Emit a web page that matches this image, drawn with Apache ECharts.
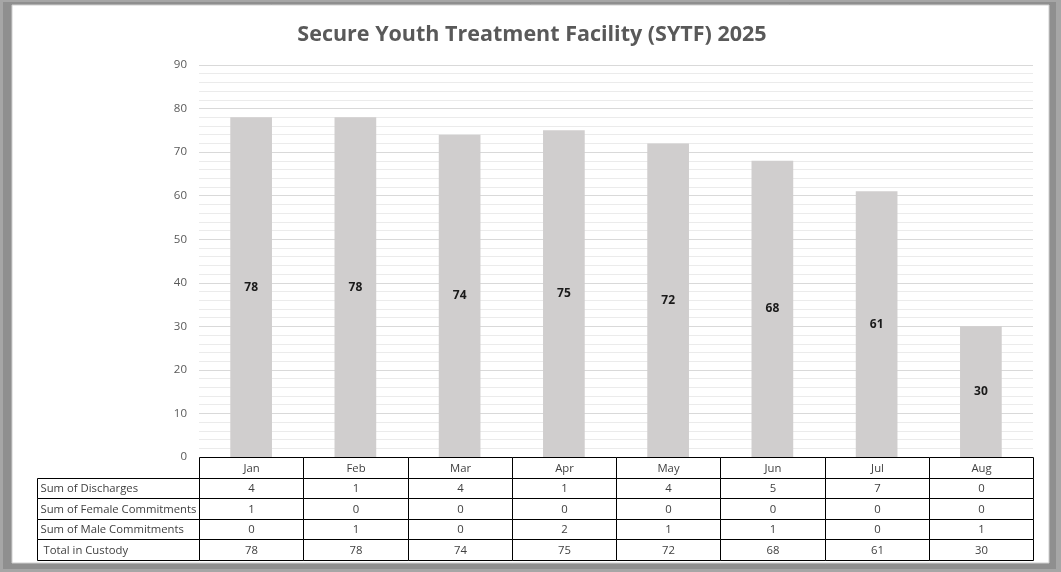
<!DOCTYPE html>
<html><head><meta charset="utf-8">
<script src="https://cdn.jsdelivr.net/npm/echarts@6/dist/echarts.min.js"></script>
<style>html,body{margin:0;padding:0;background:#fff}#c{width:1061px;height:572px}</style>
</head><body><div id="c"></div>
<script>
const months = ['Jan','Feb','Mar','Apr','May','Jun','Jul','Aug'];
const discharges = [4,1,4,1,4,5,7,0];
const femaleCommitments = [1,0,0,0,0,0,0,0];
const maleCommitments = [0,1,0,2,1,1,0,1];
const totalInCustody = [78,78,74,75,72,68,61,30];
const rowLabels = ['Sum of Discharges','Sum of Female Commitments','Sum of Male Commitments',' Total in Custody'];
const tableRows = [discharges, femaleCommitments, maleCommitments, totalInCustody];
const yTicks = [0,10,20,30,40,50,60,70,80,90];

const FONT = 'Open Sans';
const chart = echarts.init(document.getElementById('c'));

const monthCells = [];
for (let c = 0; c < months.length; c++) for (let r = 0; r < 5; r++) monthCells.push([c, r]);
const labelCells = rowLabels.map((_, i) => [0, i]);

function cellRender(textFn, align) {
  return function (params, api) {
    const c = api.value(0), r = api.value(1);
    const p = api.coord([c, r]);
    const s = api.size([1, 1]);
    const x0 = Math.round(p[0] - s[0] / 2), x1 = Math.round(p[0] + s[0] / 2);
    const y0 = Math.round(p[1] - s[1] / 2), y1 = Math.round(p[1] + s[1] / 2);
    const x = x0 + 0.5, y = y0 + 0.5, w = x1 - x0, h = y1 - y0;
    return {
      type: 'group',
      children: [
        { type: 'rect', shape: { x, y, width: w, height: h }, style: { fill: '#fff', stroke: '#000', lineWidth: 1 } },
        { type: 'text', style: { text: textFn(c, r), x: align === 'left' ? x + 3 : x + w / 2, y: y + h / 2 + 0.5,
            textAlign: align, textVerticalAlign: 'middle', fill: '#404040', font: '11.3px "' + FONT + '"' } }
      ]
    };
  };
}

chart.setOption({
  animation: false,
  backgroundColor: '#fff',
  graphic: [
    { type: 'rect', z: -10, shape: { x: 0, y: 0, width: 1061, height: 572 }, style: { fill: '#a6a6a6' } },
    { type: 'rect', z: -9, shape: { x: 3, y: 2, width: 1053, height: 567 }, style: { fill: '#8f8f8f' } },
    { type: 'rect', z: -8, shape: { x: 12, y: 5, width: 1037, height: 558 }, style: { fill: '#fff', stroke: '#cfcfcf', lineWidth: 1 } }
  ],
  title: {
    text: 'Secure Youth Treatment Facility (SYTF) 2025',
    left: 527, top: 19, textAlign: 'center',
    textStyle: { fontFamily: FONT, fontWeight: 'bold', fontSize: 21.5, color: '#595959' }
  },
  grid: [
    { left: 199, right: 28, top: 65, bottom: 115 },
    { left: 199, right: 28, top: 457, height: 103 },
    { left: 37, width: 162, top: 477.6, height: 82.4 }
  ],
  xAxis: [
    { type: 'category', data: months, gridIndex: 0, axisLine: { show: false }, axisTick: { show: false }, axisLabel: { show: false } },
    { type: 'category', data: months, gridIndex: 1, show: false },
    { type: 'category', data: ['label'], gridIndex: 2, show: false }
  ],
  yAxis: [
    { type: 'value', gridIndex: 0, min: 0, max: 90, interval: 10,
      axisLine: { show: false }, axisTick: { show: false },
      axisLabel: { color: '#595959', fontFamily: FONT, fontSize: 11.5, margin: 12 },
      splitLine: { lineStyle: { color: '#d9d9d9', width: 1 } },
      minorTick: { show: false, splitNumber: 5 },
      minorSplitLine: { show: true, lineStyle: { color: '#ebebeb', width: 1 } } },
    { type: 'category', gridIndex: 1, data: [0,1,2,3,4], inverse: true, show: false },
    { type: 'category', gridIndex: 2, data: [0,1,2,3], inverse: true, show: false }
  ],
  series: [
    { type: 'bar', name: 'Total in Custody', data: totalInCustody, barWidth: '40%',
      itemStyle: { color: '#d0cece' },
      label: { show: true, position: 'inside', color: '#1a1a1a', fontWeight: 'bold', fontFamily: FONT, fontSize: 12 } },
    { type: 'custom', xAxisIndex: 1, yAxisIndex: 1, data: monthCells,
      renderItem: cellRender((c, r) => r === 0 ? months[c] : String(tableRows[r - 1][c]), 'center') },
    { type: 'custom', xAxisIndex: 2, yAxisIndex: 2, data: labelCells,
      renderItem: cellRender((c, r) => rowLabels[r], 'left') }
  ]
});
</script></body></html>
